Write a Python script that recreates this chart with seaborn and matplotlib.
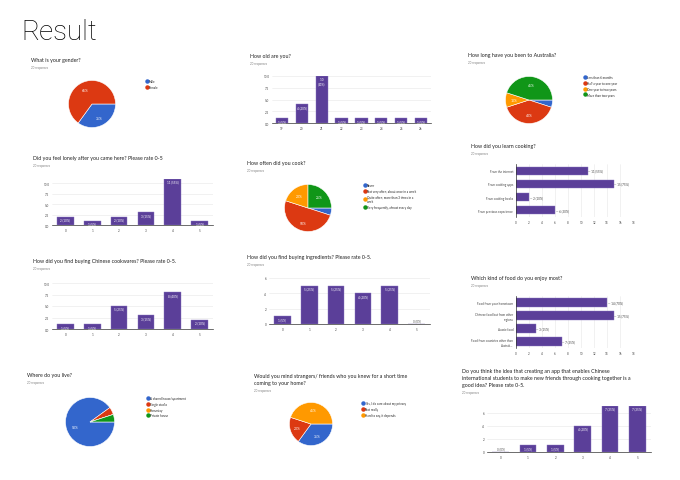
"""Survey results dashboard"""
import numpy as np
import pandas as pd
import matplotlib.pyplot as plt
import seaborn as sns
from matplotlib.lines import Line2D

# data
gender_labels = ["Male", "Female"]
gender_pct = [35, 65]

age_cats = ["19", "20", "21", "22", "23", "24", "25", "26"]
age_counts = [1, 4, 10, 1, 1, 1, 1, 1]

aus_labels = ["Less than 6 months", "Half a year to one year",
              "One year to two years", "More than two years"]
aus_pct = [5, 40, 10, 45]

rate_cats = ["0", "1", "2", "3", "4", "5"]
lonely_counts = [2, 1, 2, 3, 11, 1]

cook_labels = ["Never", "Not very often, about once in a week",
               "Quite often, more than 3 times in a\nweek",
               "Very frequently, almost every day"]
cook_pct = [5, 50, 20, 25]

learn_cats = ["From the internet", "From cooking apps",
              "From cooking books", "From previous experience"]
learn_counts = [11, 15, 2, 6]

cookware_counts = [1, 1, 5, 3, 8, 2]
ingred_counts = [1, 5, 5, 4, 5, 0]

food_cats = ["Food from your hometown", "Chinese food but from other\nregions",
             "Aussie food", "Food from countries other than\nAustrali..."]
food_counts = [14, 15, 3, 7]

live_labels = ["A shared house/apartment", "Single studio", "Homestay", "Private house"]
live_pct = [90, 5, 0, 5]

stranger_labels = ["Yes, I do care about my privacy", "Not really", "Hard to say, it depends"]
stranger_pct = [35, 20, 45]

app_counts = [0, 1, 1, 4, 7, 7]

N = 20
PIE_COLORS = ["#3366CC", "#DC3912", "#FF9900", "#109618"]
PURPLE = "#5B3F99"

sns.set_style("white")
plt.rcParams["font.family"] = ["Lato", "DejaVu Sans"]

W, H = 680, 481
fig = plt.figure(figsize=(6.8, 4.81), dpi=100)


def px_axes(x0, y0, x1, y1):
    return fig.add_axes([x0 / W, 1 - y1 / H, (x1 - x0) / W, (y1 - y0) / H])


def px_text(x, y, s, **kw):
    fig.text(x / W, 1 - y / H, s, **kw)


def header(x, y, title, n_lines=1):
    px_text(x, y, title, fontsize=3.8, color="#202020", va="top", linespacing=1.5)
    px_text(x, y + 8 + 7 * (n_lines - 1), f"{N} responses", fontsize=2.1, color="#808080", va="top")


def lbl(v):
    return f"{v} ({v * 100 // N}%)"


def style_axes(ax, horizontal=False):
    for s in ax.spines.values():
        s.set_visible(False)
    if horizontal:
        ax.spines["left"].set_visible(True)
        ax.spines["left"].set_color("#333333")
        ax.spines["left"].set_linewidth(0.5)
        ax.xaxis.grid(True, color="#e6e6e6", lw=0.4)
    else:
        ax.spines["bottom"].set_visible(True)
        ax.spines["bottom"].set_color("#333333")
        ax.spines["bottom"].set_linewidth(0.5)
        ax.yaxis.grid(True, color="#e6e6e6", lw=0.4)
    ax.set_axisbelow(True)
    ax.tick_params(length=0, labelsize=2.2, colors="#444444", pad=2)
    ax.set_xlabel("")
    ax.set_ylabel("")


def vbar(box, cats, counts, ymax, yticks, tickfmt, narrow=False):
    ax = px_axes(*box)
    sns.barplot(x=cats, y=counts, color=PURPLE, saturation=1, width=0.62,
                edgecolor="#8a76c0", linewidth=0.3, ax=ax)
    ax.set_ylim(0, ymax)
    ax.set_yticks(yticks)
    ax.set_yticklabels([tickfmt.format(t) for t in yticks])
    style_axes(ax)
    for i, v in enumerate(counts):
        s = lbl(v)
        if narrow and v >= 10:
            s = s.replace(" ", " \n")
        if v > 0:
            ax.text(i, v - ymax * 0.02, s, ha="center", va="top", color="white",
                    fontsize=2.2, linespacing=1.1)
        else:
            ax.text(i, ymax * 0.03, s, ha="center", va="bottom", color="#555555", fontsize=2.2)
    return ax


def hbar(box, cats, counts):
    ax = px_axes(*box)
    sns.barplot(x=counts, y=cats, orient="h", color=PURPLE, saturation=1, width=0.62,
                edgecolor="#8a76c0", linewidth=0.3, ax=ax)
    ax.set_xlim(0, 18)
    ax.set_xticks(np.arange(0, 19, 2))
    style_axes(ax, horizontal=True)
    for i, v in enumerate(counts):
        ax.text(v + 0.1, i, "\u2014 " + lbl(v), ha="left", va="center",
                color="#444444", fontsize=2.2)
    return ax


def pie(cx, cy, r, vals, labels, legend_xy):
    ax = px_axes(cx - r, cy - r, cx + r, cy + r)
    ax.pie(vals, colors=PIE_COLORS[:len(vals)], startangle=0, counterclock=False,
           wedgeprops=dict(edgecolor="white", linewidth=0.4),
           autopct=lambda p: f"{p:.0f}%" if p >= 9 else "", pctdistance=0.65,
           textprops=dict(color="white", fontsize=2.4))
    ax.set_xlim(-1.02, 1.02)
    ax.set_ylim(-1.02, 1.02)
    ax.set_aspect("equal")
    handles = [Line2D([], [], marker="o", ls="", color=c, markersize=2.2)
               for c in PIE_COLORS[:len(vals)]]
    fig.legend(handles, labels, loc="upper left",
               bbox_to_anchor=(legend_xy[0] / W, 1 - legend_xy[1] / H),
               frameon=False, fontsize=2.2, handletextpad=0.3, labelspacing=0.6,
               borderaxespad=0, borderpad=0, handlelength=0.6)
    return ax


px_text(21, 33, "Result", fontsize=20, fontweight="light", color="#000000", va="center",
        family=["Roboto", "DejaVu Sans"])

# row 1
header(31, 58, "What is your gender?")
pie(92, 105, 24, gender_pct, gender_labels, (146, 80))

header(250, 54, "How old are you?")
vbar((272, 77, 431, 124), age_cats, age_counts, 10, [0, 2.5, 5, 7.5, 10], "{:.1f}", narrow=True)

header(468, 53, "How long have you been to Australia?")
pie(529, 101, 24, aus_pct, aus_labels, (584, 76))

# row 2
header(33, 156, "Did you feel lonely after you came here? Please rate 0-5")
vbar((52, 180, 213, 226), rate_cats, lonely_counts, 11, [0, 2.5, 5, 7.5, 10], "{:.1f}")

header(247, 161, "How often did you cook?")
pie(308, 209, 24, cook_pct, cook_labels, (364, 184))

header(471, 144, "How did you learn cooking?")
hbar((516, 165, 633, 218), learn_cats, learn_counts)

# row 3
header(33, 259, "How did you find buying Chinese cookwares? Please rate 0-5.")
vbar((52, 284, 213, 330), rate_cats, cookware_counts, 10, [0, 2.5, 5, 7.5, 10], "{:.1f}")

header(247, 255, "How did you find buying ingredients? Please rate 0-5.")
vbar((269, 279, 430, 325), rate_cats, ingred_counts, 6, [0, 2, 4, 6], "{:.0f}")

header(471, 276, "Which kind of food do you enjoy most?")
hbar((516, 297, 633, 349), food_cats, food_counts)

# row 4
header(27, 373, "Where do you live?")
pie(90, 423, 25, live_pct, live_labels, (147, 397))

header(254, 374, "Would you mind strangers/ friends who you knew for a short time\ncoming to your home?", n_lines=2)
pie(311, 425, 22, stranger_pct, stranger_labels, (362, 402))

header(462, 369, "Do you think the idea that creating an app that enables Chinese\n"
       "international students to make new friends through cooking together is a\n"
       "good idea? Please rate 0-5.", n_lines=3)
vbar((487, 407, 651, 453), rate_cats, app_counts, 7, [0, 2, 4, 6], "{:.0f}")

fig.savefig("out.png", dpi=100, facecolor="white")
